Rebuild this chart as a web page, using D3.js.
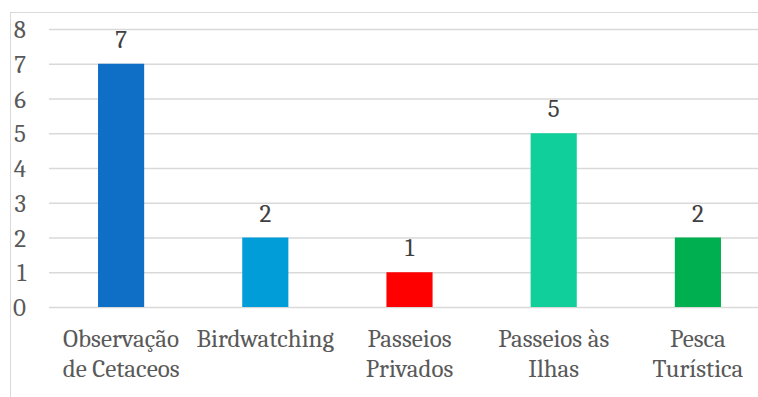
<!DOCTYPE html>
<html>
<head>
<meta charset="utf-8">
<script src="https://cdn.jsdelivr.net/npm/d3@7"></script>
<style>
  html, body { margin: 0; padding: 0; background: #fff; }
  svg { display: block; }
  svg text { font-family: 'Caladea', 'Liberation Serif', serif; font-size: 25px; }
</style>
</head>
<body>
<svg id="chart" width="758" height="397"></svg>
<script>
// Tourist activities and the number of operators offering each
const categories = [
  ["Observação", "de Cetaceos"],
  ["Birdwatching"],
  ["Passeios", "Privados"],
  ["Passeios às", "Ilhas"],
  ["Pesca", "Turística"]
];
const values = [7, 2, 1, 5, 2];
const colors = ["#0F6FC6", "#009DD9", "#FF0000", "#10CF9B", "#00B050"];
const yTicks = [0, 1, 2, 3, 4, 5, 6, 7, 8];

const W = 758;
const plotLeft = 49, plotRight = 770;
const svg = d3.select("#chart");
const labelFont = "Caladea, 'Liberation Serif', serif";
const textColor = "#595959";

// Chart area frame
svg.append("rect")
  .attr("x", 10.5).attr("y", 12.5)
  .attr("width", 800).attr("height", 420)
  .attr("fill", "#fff")
  .attr("stroke", "#d9d9d9").attr("stroke-width", 1);

const x = d3.scaleBand()
  .domain(d3.range(categories.length))
  .range([plotLeft, plotRight])
  .paddingInner(0.68).paddingOuter(0.34);

const y = d3.scaleLinear().domain([0, 8]).range([307, 29]);

// Horizontal gridlines (including the baseline at 0)
const yAxis = d3.axisLeft(y).tickValues(yTicks)
  .tickSize(-(plotRight - plotLeft)).tickPadding(23);
const gy = svg.append("g")
  .attr("transform", `translate(${plotLeft},0)`)
  .call(yAxis)
  .attr("font-family", labelFont)
  .attr("font-size", 25);
gy.select(".domain").remove();
gy.selectAll(".tick line").attr("stroke", "#d9d9d9").attr("stroke-width", 1.5);
gy.selectAll(".tick text")
  .attr("fill", textColor)
  .attr("dy", "0.34em");

// Bars
svg.append("g").selectAll("rect")
  .data(values)
  .join("rect")
  .attr("x", (d, i) => x(i))
  .attr("width", x.bandwidth())
  .attr("y", d => y(d))
  .attr("height", d => y(0) - y(d))
  .attr("fill", (d, i) => colors[i]);

// Value labels above bars
svg.append("g").selectAll("text")
  .data(values)
  .join("text")
  .attr("x", (d, i) => x(i) + x.bandwidth() / 2)
  .attr("y", d => y(d) - 16)
  .attr("text-anchor", "middle")
  .attr("fill", "#404040")
  .text(d => d);

// Category labels (two lines where needed)
const cat = svg.append("g").selectAll("text")
  .data(categories)
  .join("text")
  .attr("x", (d, i) => x(i) + x.bandwidth() / 2)
  .attr("y", 347)
  .attr("text-anchor", "middle")
  .attr("fill", textColor);
cat.selectAll("tspan")
  .data(d => d)
  .join("tspan")
  .attr("x", function () { return d3.select(this.parentNode).attr("x"); })
  .attr("dy", (d, i) => i === 0 ? 0 : 30)
  .text(d => d);
</script>
</body>
</html>
